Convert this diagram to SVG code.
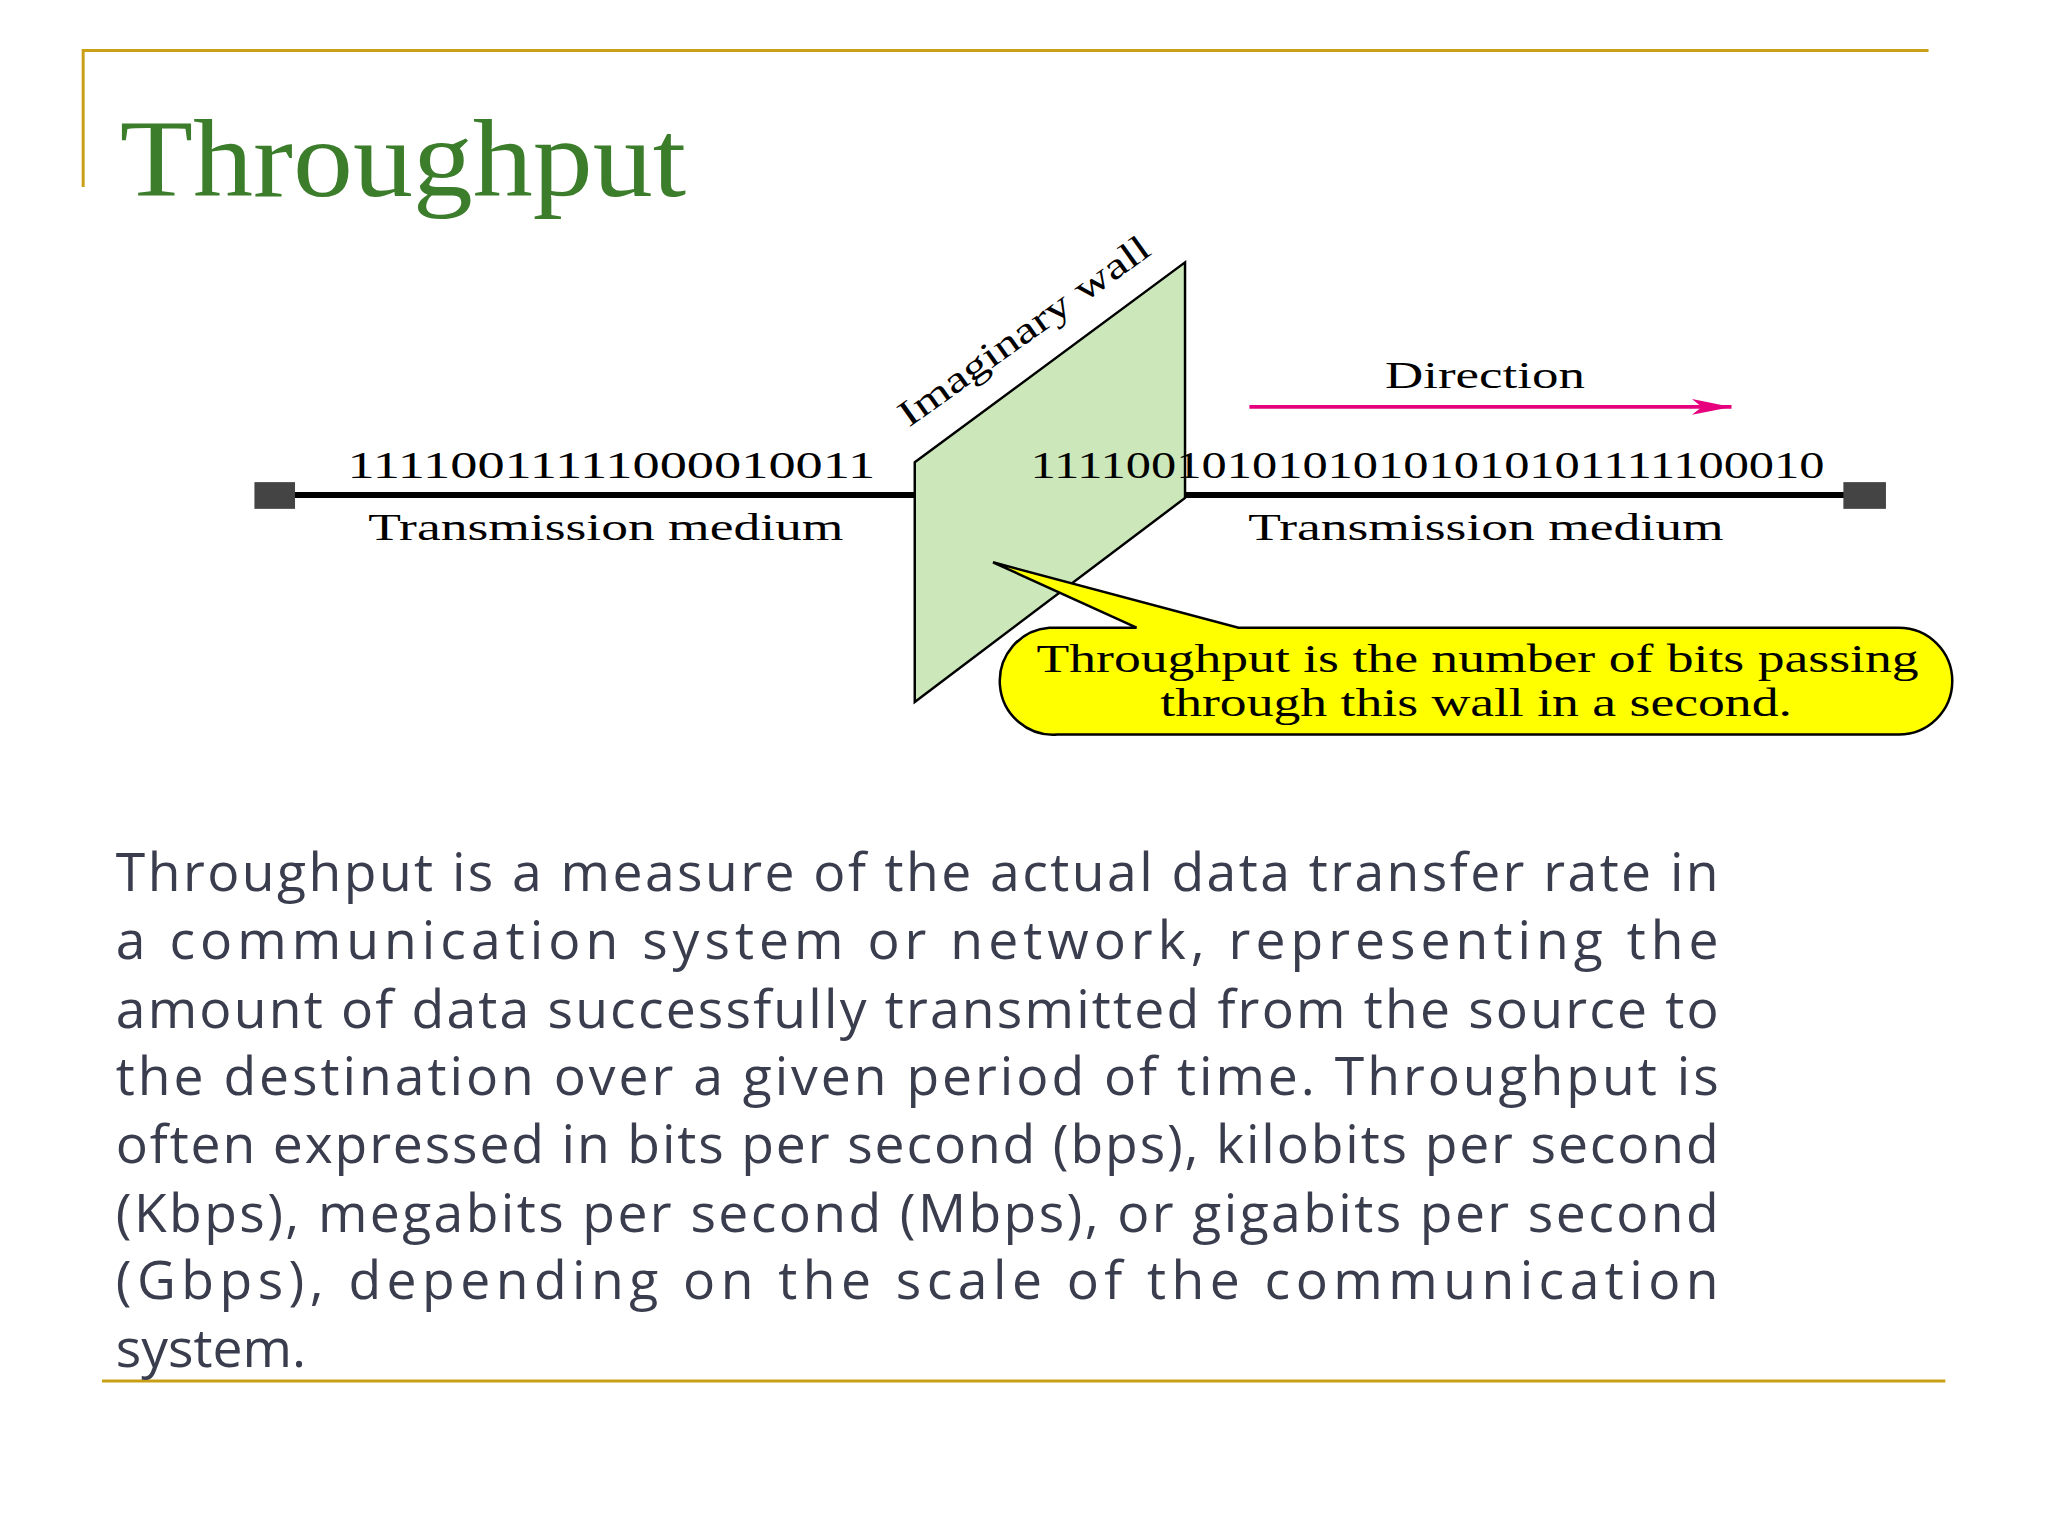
<svg xmlns="http://www.w3.org/2000/svg" width="2048" height="1536" viewBox="0 0 2048 1536">
<style>
.serif{font-family:"Liberation Serif","DejaVu Serif",serif;fill:#000}
.para{font-family:"Open Sans","Noto Sans",sans-serif;font-size:54px;fill:#3a3d4d}
.gold{stroke:#c9a015;stroke-width:3;fill:none}
</style>
<defs>
<marker id="ah" viewBox="0 0 40 16" refX="40" refY="8" markerWidth="40" markerHeight="16" markerUnits="userSpaceOnUse" orient="auto"><path d="M0,0 L40,8 L0,16 L10,8 Z" fill="#e6007e"/></marker>
</defs>
<rect width="2048" height="1536" fill="#fff"/>
<g transform="scale(0.99)">
<path class="gold" d="M84,189 V51 H1948"/>
<line class="gold" x1="103" y1="1395" x2="1965" y2="1395"/>
<text x="121" y="198" font-family="Liberation Serif,serif" font-size="112" fill="#3b7d2a" textLength="572" lengthAdjust="spacingAndGlyphs">Throughput</text>
<g id="connectors">
<line x1="277" y1="500" x2="924" y2="500" stroke="#000" stroke-width="6"/>
<line x1="1043" y1="500" x2="1884" y2="500" stroke="#000" stroke-width="6"/>
<line x1="1262" y1="411" x2="1749" y2="411" stroke="#e6007e" stroke-width="4" marker-end="url(#ah)"/>
</g>
<g id="endpoints">
<rect x="257" y="487" width="41" height="27" fill="#444"/>
<rect x="1862" y="487" width="43" height="27" fill="#444"/>
</g>
<g id="wall">
<polygon points="924,467 1197,265 1197,503 924,709" fill="#cce8bb" stroke="#000" stroke-width="2.5"/>
<text class="serif" font-size="37" transform="translate(918,432) rotate(-35.5)" textLength="303" lengthAdjust="spacingAndGlyphs">Imaginary wall</text>
</g>
<g id="labels">
<text class="serif" font-size="39" x="351" y="483" textLength="533" lengthAdjust="spacingAndGlyphs">11110011111000010011</text>
<text class="serif" font-size="39" x="1041" y="483" textLength="802" lengthAdjust="spacingAndGlyphs">11110010101010101010101111100010</text>
<text class="serif" font-size="38" x="372" y="545" textLength="480" lengthAdjust="spacingAndGlyphs">Transmission medium</text>
<text class="serif" font-size="38" x="1261" y="545" textLength="480" lengthAdjust="spacingAndGlyphs">Transmission medium</text>
<text class="serif" font-size="38" x="1399" y="392" textLength="202" lengthAdjust="spacingAndGlyphs">Direction</text>
</g>
<g id="callout">
<path d="M1060,634 H1148 L1003,568 L1251,634 H1918 A54,54 0 0 1 1918,742 H1068 A54,54 0 0 1 1060,634 Z" fill="#ffff00" stroke="#000" stroke-width="2.5"/>
<text class="serif" x="1047" y="679" font-size="40" textLength="891" lengthAdjust="spacingAndGlyphs">Throughput is the number of bits passing</text>
<text class="serif" x="1172" y="723" font-size="40" textLength="638" lengthAdjust="spacingAndGlyphs">through this wall in a second.</text>
</g>
<g id="paragraph" class="para">
<text x="117" y="900" textLength="1619" lengthAdjust="spacing">Throughput is a measure of the actual data transfer rate in</text>
<text x="117" y="969" textLength="1619" lengthAdjust="spacing">a communication system or network, representing the</text>
<text x="117" y="1038" textLength="1619" lengthAdjust="spacing">amount of data successfully transmitted from the source to</text>
<text x="117" y="1106" textLength="1619" lengthAdjust="spacing">the destination over a given period of time. Throughput is</text>
<text x="117" y="1175" textLength="1619" lengthAdjust="spacing">often expressed in bits per second (bps), kilobits per second</text>
<text x="117" y="1244" textLength="1619" lengthAdjust="spacing">(Kbps), megabits per second (Mbps), or gigabits per second</text>
<text x="117" y="1312" textLength="1619" lengthAdjust="spacing">(Gbps), depending on the scale of the communication</text>
<text x="117" y="1381">system.</text>
</g>
</g>
</svg>
